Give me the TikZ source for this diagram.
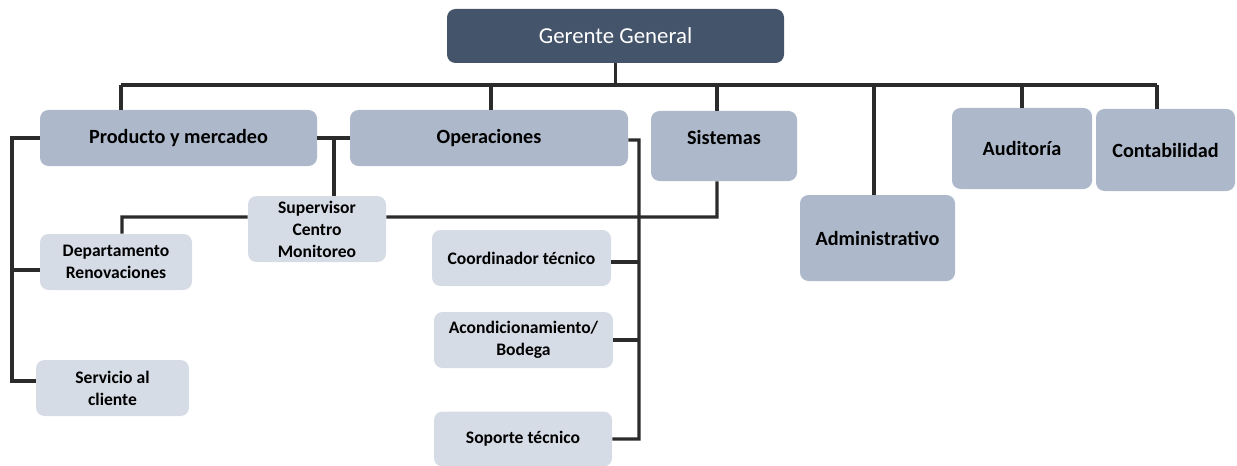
\documentclass[tikz,border=0pt]{standalone}
\usepackage{fontspec}
\setmainfont{Carlito}
\definecolor{topfill}{HTML}{44546A}
\definecolor{midfill}{HTML}{ADB9CA}
\definecolor{lowfill}{HTML}{D6DCE5}
\definecolor{linecol}{HTML}{2B2B2B}
\tikzset{
  boxbase/.style={rectangle, rounded corners=0.17cm, inner sep=0pt, align=center},
  topbox/.style={boxbase, fill=topfill, text=white, font=\fontsize{13}{15}\selectfont},
  unitbox/.style={boxbase, fill=midfill, text=black, font=\bfseries\fontsize{11.5}{14}\selectfont},
  subbox/.style={boxbase, fill=lowfill, text=black, font=\bfseries\fontsize{10}{12.5}\selectfont},
  conn/.style={draw=linecol, line width=1.8pt},
  sz/.style 2 args={minimum width=#1*0.02cm, minimum height=#2*0.02cm},
}
\begin{document}
\begin{tikzpicture}[x=0.02cm, y=-0.02cm]
\useasboundingbox (0,0) rectangle (1237,466);

% top level
\node[topbox, sz={337}{54}] (gg) at (615.5,36) {Gerente General};

% second level
\node[unitbox, sz={277}{56}] (prod) at (178.5,138) {Producto y mercadeo};
\node[unitbox, sz={278}{56}] (ops) at (489,138) {Operaciones};
\node[unitbox, sz={146}{70}, label={[unitbox, fill=none, yshift=0.18cm]center:Sistemas}] (sis) at (724,146) {};
\node[unitbox, sz={155}{86}] (adm) at (877.5,238) {Administrativo};
\node[unitbox, sz={140}{81}] (aud) at (1022,148.5) {Auditoría};
\node[unitbox, sz={139}{82}] (cont) at (1165.5,150) {Contabilidad};

% third level
\node[subbox, sz={138}{66}] (sup) at (317,229) {Supervisor\\Centro\\Monitoreo};
\node[subbox, sz={152}{56}] (dep) at (116,262) {Departamento\\Renovaciones};
\node[subbox, sz={153}{56}] (serv) at (112.5,388) {Servicio al\\cliente};
\node[subbox, sz={179}{56}] (coord) at (521.5,258) {Coordinador técnico};
\node[subbox, sz={179}{56}] (acond) at (523.5,340) {Acondicionamiento/\\Bodega};
\node[subbox, sz={178}{55}] (sop) at (523,439) {Soporte técnico};

% branching points
\coordinate (busL) at (121,85);
\coordinate (busR) at (1157,85);
\coordinate (dops) at (491,85);
\coordinate (dsis) at (717,85);
\coordinate (dadm) at (874,85);
\coordinate (daud) at (1022,85);
\coordinate (pleft) at (12,138);
\coordinate (pjoin) at (334,138);
\coordinate (supl) at (122,217);
\coordinate (supr) at (717,217);
\coordinate (oright) at (639,140);
\coordinate (depin) at ([yshift=-0.16cm]dep.west);
\coordinate (servin) at ([yshift=0.14cm]serv.west);
\coordinate (coordin) at ([yshift=-0.08cm]coord.east);

% connectors from the top
\draw[conn] (gg.south) -- (gg.south |- busL);
\draw[conn] (busL) -- (busR);
\draw[conn] (busL) -- (busL |- prod.north);
\draw[conn] (dops) -- (dops |- ops.north);
\draw[conn] (dsis) -- (dsis |- sis.north);
\draw[conn] (dadm) -- (dadm |- adm.north);
\draw[conn] (daud) -- (daud |- aud.north);
\draw[conn] (busR) -- (busR |- cont.north);

% product branch
\draw[conn] (prod.west) -- (pleft) |- (servin);
\draw[conn] (pleft |- depin) -- (depin);
\draw[conn] (prod.east) -- (ops.west);
\draw[conn] (pjoin) -- (pjoin |- sup.north);

% supervisor links
\draw[conn] ([yshift=0.24cm]sup.west) -- (supl) -- (supl |- dep.north);
\draw[conn] ([yshift=0.24cm]sup.east) -- (supr) -- (supr |- sis.south);

% operations branch
\draw[conn] ([yshift=-0.04cm]ops.east) -- (oright) |- (sop.east);
\draw[conn] (coordin) -- (coordin -| oright);
\draw[conn] (acond.east) -- (acond.east -| oright);
\end{tikzpicture}
\end{document}
